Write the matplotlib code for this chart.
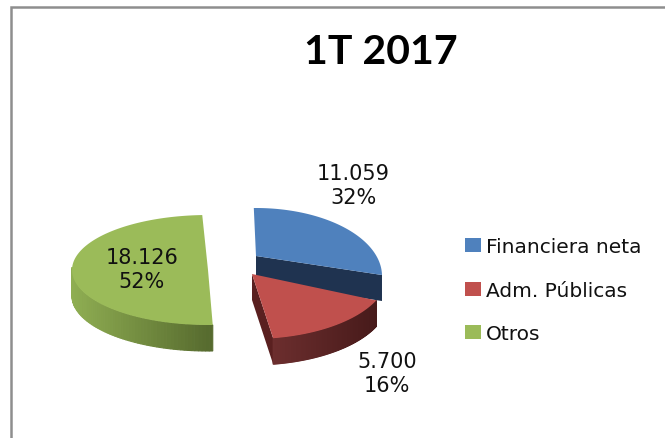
import numpy as np
import matplotlib
matplotlib.use('Agg')
import matplotlib.pyplot as plt
from matplotlib.patches import Patch
from matplotlib.colors import to_rgb

# datos
categorias = ['Financiera neta', 'Adm. Públicas', 'Otros']
valores = [11059, 5700, 18126]
etiquetas = ['11.059\n32%', '5.700\n16%', '18.126\n52%']
titulo = '1T 2017'

# estilo de cada porcion
colores = ['#4f81bd', '#c0504d', '#9bbb59']
corte = ['#1f3350', '#5a2020', '#566a2e']
lado_izq = ['#1f3350', '#6c2e2e', '#8fae52']
lado_der = ['#1f3350', '#471a1a', '#566a2e']
vertices = [(256, 257), (252, 275), (208, 271)]
# la perspectiva deforma cada porcion: centro del borde, radios, inicio y escala del angulo
centros = [(256, 277), (252, 275), (208, 271)]
radio_x = [126, 136, 136]
radio_y = [68, 65, 55]
inicios = [91, -24, -88]
escala = [0.79, 0.97, 0.96]
alto = 26
pos_etiquetas = [(353, 186), (387, 374), (142, 270)]

plt.rcParams['font.family'] = ['DejaVu Sans']
fig = plt.figure(figsize=(6.65, 4.39), dpi=100)
ax = fig.add_axes([0, 0, 1, 1])
ax.set_xlim(0, 665)
ax.set_ylim(439, 0)
ax.axis('off')

# marco
ax.plot([11, 11, 665], [439, 8, 8], color='#8e8e8e', lw=1.8, solid_joinstyle='miter')


def mezcla(c1, c2, t):
    a, b = np.array(to_rgb(c1)), np.array(to_rgb(c2))
    return tuple(a + (b - a) * t)


# porciones en pseudo 3D, angulos sacados de los valores
total = sum(valores)
for i, v in enumerate(valores):
    barrido = v / total * 360 * escala[i]
    th = np.radians(np.linspace(inicios[i], inicios[i] - barrido, 120))
    cx, cy = centros[i]
    vx, vy = vertices[i]
    xs = cx + radio_x[i] * np.cos(th)
    ys = cy - radio_y[i] * np.sin(th)

    # caras de corte
    if i < 2:
        ax.fill([vx, xs[-1], xs[-1], vx], [vy, ys[-1], ys[-1] + alto, vy + alto],
                color=corte[i], lw=0, zorder=2)

    # borde exterior, con degradado segun x
    if i > 0:
        xmin, xmax = xs.min(), xs.max()
        for j in range(len(th) - 1):
            if np.sin(th[j]) > 0.03 and np.sin(th[j + 1]) > 0.03:
                continue
            t = (xs[j] - xmin) / (xmax - xmin)
            ax.fill([xs[j], xs[j + 1], xs[j + 1], xs[j]],
                    [ys[j], ys[j + 1], ys[j + 1] + alto, ys[j] + alto],
                    color=mezcla(lado_izq[i], lado_der[i], t), lw=0.8, zorder=3)

    # cara superior
    ax.fill(np.r_[vx, xs], np.r_[vy, ys], color=colores[i], lw=0, zorder=4)
    ax.text(pos_etiquetas[i][0], pos_etiquetas[i][1], etiquetas[i], ha='center', va='center',
            fontsize=15, color='#111111', linespacing=1.25, zorder=5)

ax.text(381, 53, titulo, ha='center', va='center', fontsize=29.5, fontweight='bold',
        family=['Lato', 'DejaVu Sans'], color='black')

# leyenda
parches = [Patch(color=c, lw=0) for c in colores]
ax.legend(parches, categorias, loc='upper left', bbox_to_anchor=(461, 234), bbox_transform=ax.transData,
          frameon=False, fontsize=14.5, handlelength=0.77, handleheight=0.7, handletextpad=0.25,
          labelspacing=1.22, borderpad=0.2, borderaxespad=0, labelcolor='#111111')

fig.savefig('out.png', dpi=100)
